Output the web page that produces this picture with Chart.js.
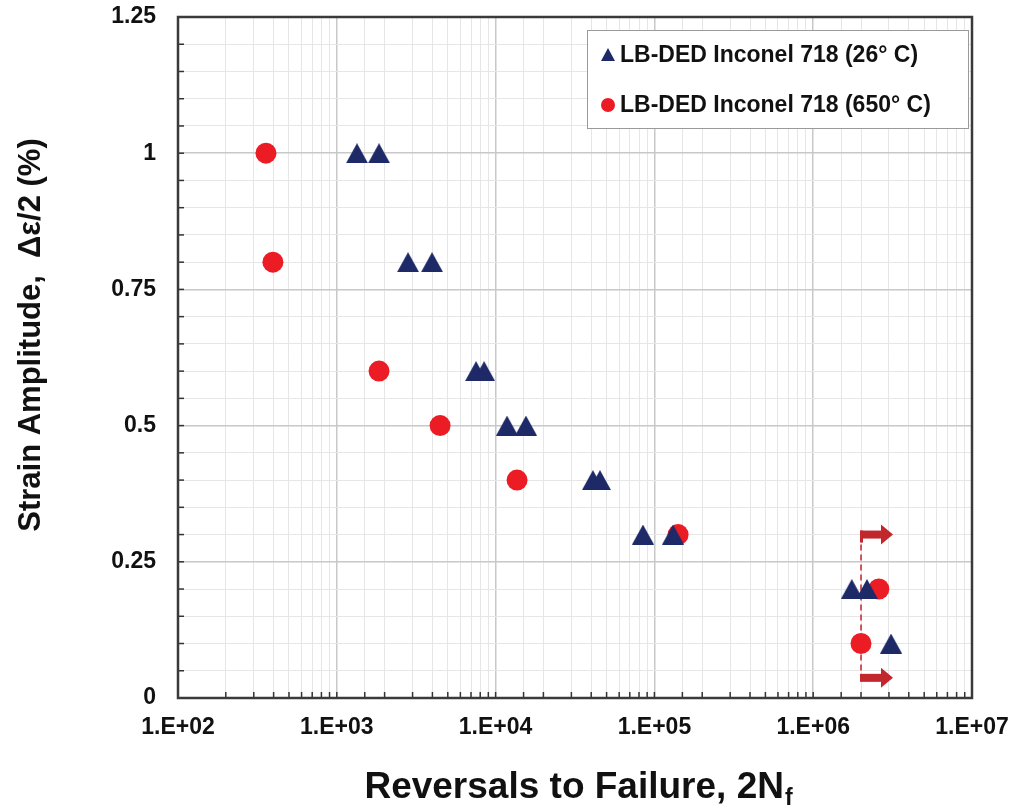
<!DOCTYPE html>
<html>
<head>
<meta charset="utf-8">
<script src="https://cdn.jsdelivr.net/npm/chart.js@4"></script>
<style>
  html, body { margin: 0; padding: 0; background: #fff; }
  #wrap { width: 1013px; height: 809px; }
</style>
</head>
<body>
<div id="wrap"><canvas id="fatigue-chart" width="1013" height="809"></canvas></div>
<script>
// reversals to failure (2Nf) vs strain amplitude (%)
const roomTempX = [1340, 1845, 2810, 3980, 7530, 8460, 11800, 15530, 41000, 45400, 84700, 131000, 1750000, 2180000, 3090000];
const roomTempY = [1.0, 1.0, 0.8, 0.8, 0.6, 0.6, 0.5, 0.5, 0.4, 0.4, 0.3, 0.3, 0.2, 0.2, 0.1];
const hotTempX = [358, 396, 1845, 4470, 13650, 141000, 2590000, 2000000];
const hotTempY = [1.0, 0.8, 0.6, 0.5, 0.4, 0.3, 0.2, 0.1];

// run-out marker (dashed line + arrows)
const runoutX = [2000000, 3180000];
const runoutY = [0.3, 0.037];

const seriesLabels = ["LB-DED Inconel 718 (26\u00b0 C)", "LB-DED Inconel 718 (650\u00b0 C)"];
const xTickLabels = ["1.E+02", "1.E+03", "1.E+04", "1.E+05", "1.E+06", "1.E+07"];
const yTickLabels = ["0", "0.25", "0.5", "0.75", "1", "1.25"];

const navy = "#1e2a68";
const red = "#ec1c24";
const darkRed = "#c1272d";
const fontFamily = "'Liberation Sans', Arial, sans-serif";

function makeTriangle(w, h, color) {
  const c = document.createElement("canvas");
  c.width = w;
  c.height = h;
  const g = c.getContext("2d");
  g.fillStyle = color;
  g.beginPath();
  g.moveTo(w / 2, 0);
  g.lineTo(w, h);
  g.lineTo(0, h);
  g.closePath();
  g.fill();
  return c;
}

function isDecade(v) {
  const l = Math.log10(v);
  return Math.abs(l - Math.round(l)) < 1e-9;
}
function isQuarter(v) {
  return Math.abs(v * 4 - Math.round(v * 4)) < 1e-6;
}

// drop the label overhang padding so the plot box lands where we want it
function noOverhang(s) {
  s.paddingTop = 0;
  s.paddingBottom = 0;
  s.paddingLeft = 0;
  s.paddingRight = 0;
}

const framePlugin = {
  id: "frame",
  beforeDatasetsDraw(chart) {
    const { ctx, chartArea: a, scales } = chart;
    const x = scales.x, y = scales.y;
    ctx.save();
    // inner tick marks
    ctx.strokeStyle = "#333";
    ctx.lineWidth = 1.5;
    x.ticks.forEach((t) => {
      const px = x.getPixelForValue(t.value);
      if (px <= a.left + 1 || px >= a.right - 1) return;
      ctx.beginPath();
      ctx.moveTo(px, a.bottom);
      ctx.lineTo(px, a.bottom - 6);
      ctx.stroke();
    });
    y.ticks.forEach((t) => {
      const py = y.getPixelForValue(t.value);
      if (py <= a.top + 1 || py >= a.bottom - 1) return;
      ctx.beginPath();
      ctx.moveTo(a.left, py);
      ctx.lineTo(a.left + 6, py);
      ctx.stroke();
    });
    // frame
    ctx.strokeStyle = "#3a3a3a";
    ctx.lineWidth = 2.5;
    ctx.strokeRect(a.left, a.top, a.right - a.left, a.bottom - a.top);

    // run-out dashed line and arrows
    const rx = x.getPixelForValue(runoutX[0]);
    const rxEnd = x.getPixelForValue(runoutX[1]);
    const yTop = y.getPixelForValue(runoutY[0]);
    const yBot = y.getPixelForValue(runoutY[1]);
    ctx.strokeStyle = darkRed;
    ctx.lineWidth = 1.5;
    ctx.setLineDash([6, 4]);
    ctx.beginPath();
    ctx.moveTo(rx, yTop);
    ctx.lineTo(rx, yBot);
    ctx.stroke();
    ctx.setLineDash([]);
    ctx.fillStyle = darkRed;
    [yTop, yBot].forEach((py, i) => {
      const headStart = rxEnd - 12;
      ctx.fillRect(rx - 1, py - 4, headStart - rx + 1, 8);
      if (i === 0) ctx.fillRect(rx - 1, py - 4, 3, 12);
      ctx.beginPath();
      ctx.moveTo(headStart, py - 10);
      ctx.lineTo(rxEnd, py);
      ctx.lineTo(headStart, py + 10);
      ctx.closePath();
      ctx.fill();
    });
    ctx.restore();
  },
  afterDraw(chart) {
    const { ctx } = chart;
    ctx.save();
    ctx.fillStyle = "#111";
    // y title
    ctx.font = "bold 31px " + fontFamily;
    ctx.textAlign = "center";
    ctx.textBaseline = "middle";
    ctx.translate(31, 335);
    ctx.rotate(-Math.PI / 2);
    ctx.fillText("Strain Amplitude,  \u0394\u03b5/2 (%)", 0, 0);
    ctx.setTransform(1, 0, 0, 1, 0, 0);

    // x title with subscript
    const main = "Reversals to Failure, 2N";
    ctx.font = "bold 37px " + fontFamily;
    const wMain = ctx.measureText(main).width;
    ctx.font = "bold 23px " + fontFamily;
    const wSub = ctx.measureText("f").width;
    const x0 = 578 - (wMain + wSub) / 2;
    ctx.textAlign = "left";
    ctx.textBaseline = "alphabetic";
    ctx.font = "bold 37px " + fontFamily;
    ctx.fillText(main, x0, 798);
    ctx.font = "bold 23px " + fontFamily;
    ctx.fillText("f", x0 + wMain + 1, 805);

    // legend box
    ctx.fillStyle = "#fff";
    ctx.fillRect(587, 30, 381, 98);
    ctx.strokeStyle = "#9a9a9a";
    ctx.lineWidth = 1;
    ctx.strokeRect(587.5, 30.5, 381, 98);
    ctx.fillStyle = navy;
    ctx.beginPath();
    ctx.moveTo(608, 48);
    ctx.lineTo(615, 61);
    ctx.lineTo(601, 61);
    ctx.closePath();
    ctx.fill();
    ctx.fillStyle = red;
    ctx.beginPath();
    ctx.arc(608, 105, 7, 0, Math.PI * 2);
    ctx.fill();
    ctx.fillStyle = "#111";
    ctx.font = "bold 23px " + fontFamily;
    ctx.textBaseline = "middle";
    ctx.fillText(seriesLabels[0], 620, 56);
    ctx.fillText(seriesLabels[1], 620, 106);
    ctx.restore();
  },
};

const tickFont = { family: fontFamily, size: 23, weight: "bold" };

new Chart(document.getElementById("fatigue-chart"), {
  type: "scatter",
  data: {
    datasets: [
      {
        label: seriesLabels[0],
        data: roomTempX.map((v, i) => ({ x: v, y: roomTempY[i] })),
        pointStyle: makeTriangle(22, 20, navy),
        pointRadius: 11,
        backgroundColor: navy,
      },
      {
        label: seriesLabels[1],
        data: hotTempX.map((v, i) => ({ x: v, y: hotTempY[i] })),
        pointStyle: "circle",
        pointRadius: 10.5,
        pointBorderWidth: 0,
        backgroundColor: red,
        borderColor: red,
      },
    ],
  },
  options: {
    responsive: false,
    animation: false,
    layout: {
      padding: { top: 17, right: 41, left: 0, bottom: 0 },
    },
    plugins: {
      legend: { display: false },
      tooltip: { enabled: false },
    },
    scales: {
      x: {
        type: "logarithmic",
        min: 100,
        max: 10000000,
        afterFit: (s) => { s.height = 111; noOverhang(s); },
        border: { display: false },
        grid: {
          drawTicks: false,
          color: (c) => (c.tick && isDecade(c.tick.value) ? "#c8c8c8" : "#e6e6e6"),
          lineWidth: (c) => (c.tick && isDecade(c.tick.value) ? 1.5 : 1),
        },
        ticks: {
          autoSkip: false,
          maxRotation: 0,
          padding: 16,
          color: "#111",
          font: tickFont,
          callback: (v) => (isDecade(v) ? xTickLabels[Math.round(Math.log10(v)) - 2] : ""),
        },
      },
      y: {
        min: 0,
        max: 1.25,
        afterFit: (s) => { s.width = 178; noOverhang(s); },
        border: { display: false },
        grid: {
          drawTicks: false,
          color: (c) => (c.tick && isQuarter(c.tick.value) ? "#c8c8c8" : "#e6e6e6"),
          lineWidth: (c) => (c.tick && isQuarter(c.tick.value) ? 1.5 : 1),
        },
        ticks: {
          stepSize: 0.05,
          autoSkip: false,
          padding: 22,
          color: "#111",
          font: tickFont,
          callback: (v) => (isQuarter(v) ? yTickLabels[Math.round(v * 4)] : ""),
        },
      },
    },
  },
  plugins: [framePlugin],
});
</script>
</body>
</html>
